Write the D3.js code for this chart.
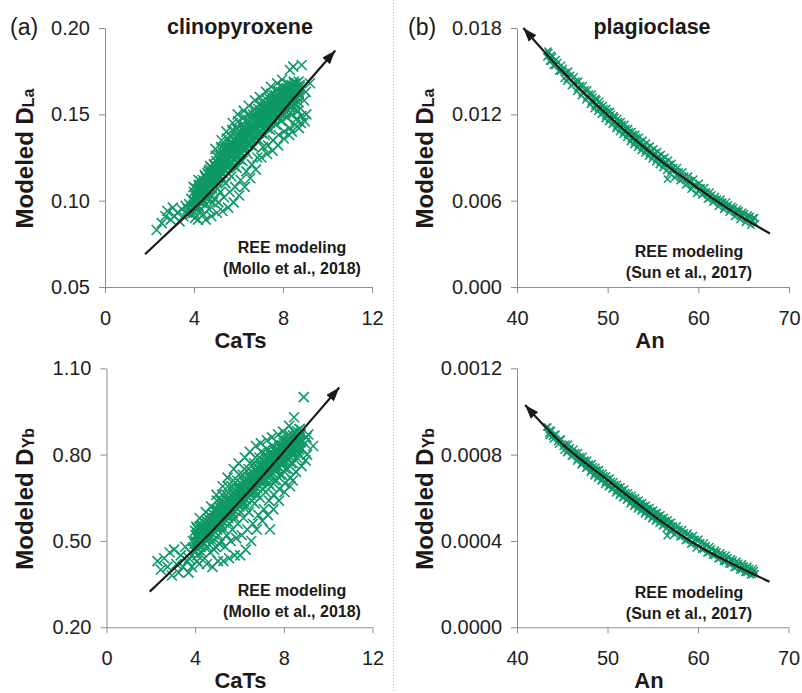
<!DOCTYPE html>
<html>
<head>
<meta charset="utf-8">
<script src="https://cdn.jsdelivr.net/npm/d3@7"></script>
<style>
  body { margin: 0; background: #fff; }
  svg { display: block; }
  text { font-family: "Liberation Sans", Arial, Helvetica, sans-serif; }
</style>
</head>
<body>
<svg id="chart" width="802" height="693"></svg>
<script>
// ---- Clinopyroxene: CaTs (mol%) vs modelled partition coefficients ----
// scattered analyses
const cpxLa = [
  [2.32,0.083],[2.55,0.087],[2.72,0.091],[2.80,0.094],[2.95,0.089],[3.05,0.096],[3.12,0.091],[3.25,0.093],[3.35,0.088],[3.45,0.095],[3.52,0.091],[3.62,0.097],[3.70,0.093],
  [3.78,0.098],[3.85,0.092],[3.88,0.101],[3.72,0.095],
  [3.95,0.094],[4.02,0.099],[4.08,0.104],[4.05,0.090],[3.98,0.108],[4.10,0.096],
  [4.18,0.089],[4.22,0.101],[4.28,0.106],[4.30,0.095],[4.20,0.112],[4.33,0.099],[4.26,0.109],
  [4.42,0.092],[4.45,0.104],[4.52,0.110],[4.55,0.098],[4.48,0.115],[4.58,0.107],[4.40,0.101],[4.53,0.089],
  [4.68,0.095],[4.70,0.108],[4.76,0.114],[4.80,0.103],[4.72,0.120],[4.83,0.111],[4.66,0.117],[4.78,0.091],[4.85,0.099],
  [4.92,0.101],[4.95,0.112],[5.02,0.118],[5.05,0.107],[4.98,0.126],[5.08,0.115],[4.90,0.121],[5.03,0.093],[5.10,0.099],[4.96,0.130],
  [5.18,0.105],[5.20,0.117],[5.26,0.122],[5.30,0.112],[5.22,0.131],[5.33,0.119],[5.15,0.126],[5.28,0.094],[5.35,0.102],[5.24,0.135],
  [5.42,0.110],[5.45,0.121],[5.52,0.127],[5.55,0.116],[5.48,0.136],[5.58,0.124],[5.40,0.131],[5.53,0.096],[5.60,0.105],[5.46,0.140],
  [5.68,0.114],[5.70,0.126],[5.76,0.132],[5.80,0.120],[5.72,0.141],[5.83,0.129],[5.66,0.137],[5.78,0.099],[5.85,0.108],[5.74,0.145],
  [5.92,0.119],[5.95,0.131],[6.02,0.137],[6.05,0.124],[5.98,0.146],[6.08,0.134],[5.90,0.142],[6.03,0.103],[6.10,0.112],[5.96,0.150],
  [6.18,0.123],[6.20,0.134],[6.26,0.140],[6.30,0.129],[6.22,0.148],[6.33,0.137],[6.15,0.144],[6.28,0.108],[6.35,0.117],[6.24,0.152],
  [6.42,0.127],[6.45,0.138],[6.52,0.143],[6.55,0.132],[6.48,0.150],[6.58,0.141],[6.40,0.147],[6.53,0.113],[6.60,0.121],[6.46,0.155],
  [6.68,0.131],[6.70,0.141],[6.76,0.147],[6.80,0.136],[6.72,0.153],[6.83,0.144],[6.66,0.150],[6.78,0.118],[6.85,0.125],[6.74,0.158],
  [6.92,0.135],[6.95,0.145],[7.02,0.150],[7.05,0.139],[6.98,0.156],[7.08,0.147],[6.90,0.153],[7.03,0.125],[7.10,0.131],[6.96,0.160],
  [7.18,0.138],[7.20,0.148],[7.26,0.153],[7.30,0.142],[7.22,0.159],[7.33,0.132],[7.15,0.156],[7.28,0.127],[7.35,0.146],[7.24,0.163],
  [7.42,0.141],[7.45,0.151],[7.52,0.156],[7.55,0.135],[7.48,0.162],[7.58,0.146],[7.40,0.159],[7.53,0.129],[7.60,0.150],[7.46,0.166],
  [7.68,0.144],[7.70,0.154],[7.76,0.159],[7.80,0.138],[7.72,0.164],[7.83,0.148],[7.66,0.161],[7.78,0.132],[7.85,0.152],[7.74,0.168],
  [7.92,0.146],[7.95,0.156],[8.02,0.161],[8.05,0.140],[7.98,0.166],[8.08,0.150],[7.90,0.163],[8.03,0.136],[8.10,0.154],[7.96,0.170],
  [8.18,0.148],[8.20,0.158],[8.26,0.163],[8.30,0.142],[8.22,0.168],[8.33,0.151],[8.15,0.165],[8.28,0.138],[8.35,0.155],[8.31,0.1757],
  [8.42,0.150],[8.45,0.160],[8.52,0.165],[8.55,0.144],[8.48,0.169],[8.58,0.147],[8.40,0.140],[8.53,0.156],[8.46,0.1776],
  [8.68,0.152],[8.70,0.162],[8.76,0.166],[8.80,0.145],[8.72,0.142],[8.83,0.149],[8.84,0.1786],
  [8.95,0.158],[9.02,0.163],[9.05,0.150],[8.98,0.146],[9.21,0.168]
];

const cpxYb = [
  [2.30,0.43],[2.45,0.40],[2.60,0.44],[2.75,0.41],[2.85,0.46],[2.95,0.38],[3.05,0.47],[3.15,0.42],[3.25,0.39],[3.35,0.45],[3.45,0.41],[3.55,0.48],[3.65,0.43],[3.70,0.39],
  [3.78,0.46],[3.85,0.41],[3.90,0.50],[3.72,0.44],
  [3.95,0.47],[4.02,0.52],[4.08,0.43],[4.05,0.55],[3.98,0.49],[4.10,0.45],
  [4.18,0.42],[4.22,0.50],[4.28,0.55],[4.30,0.46],[4.20,0.58],[4.33,0.52],[4.26,0.48],
  [4.42,0.44],[4.45,0.51],[4.52,0.56],[4.55,0.48],[4.48,0.60],[4.58,0.53],[4.40,0.49],[4.53,0.42],
  [4.68,0.46],[4.70,0.53],[4.76,0.58],[4.80,0.50],[4.72,0.62],[4.83,0.55],[4.66,0.57],[4.78,0.41],[4.85,0.47],
  [4.92,0.48],[4.95,0.55],[5.02,0.60],[5.05,0.52],[4.98,0.64],[5.08,0.57],[4.90,0.61],[5.03,0.43],[5.10,0.49],[4.96,0.66],
  [5.18,0.50],[5.20,0.57],[5.26,0.62],[5.30,0.54],[5.22,0.66],[5.33,0.59],[5.15,0.64],[5.28,0.43],[5.35,0.48],[5.24,0.69],
  [5.42,0.52],[5.45,0.59],[5.52,0.64],[5.55,0.56],[5.48,0.69],[5.58,0.61],[5.40,0.66],[5.53,0.44],[5.60,0.50],[5.46,0.72],
  [5.68,0.54],[5.70,0.61],[5.76,0.66],[5.80,0.58],[5.72,0.71],[5.83,0.63],[5.66,0.69],[5.78,0.45],[5.85,0.51],[5.74,0.75],
  [5.92,0.56],[5.95,0.63],[6.02,0.68],[6.05,0.60],[5.98,0.73],[6.08,0.65],[5.90,0.71],[6.03,0.45],[6.10,0.52],[5.96,0.77],
  [6.18,0.58],[6.20,0.65],[6.26,0.70],[6.30,0.62],[6.22,0.75],[6.33,0.67],[6.15,0.73],[6.28,0.47],[6.35,0.54],[6.24,0.79],
  [6.42,0.60],[6.45,0.67],[6.52,0.72],[6.55,0.64],[6.48,0.77],[6.58,0.69],[6.40,0.75],[6.53,0.50],[6.60,0.56],[6.46,0.81],
  [6.68,0.63],[6.70,0.69],[6.76,0.74],[6.80,0.66],[6.72,0.79],[6.83,0.71],[6.66,0.77],[6.78,0.54],[6.85,0.59],[6.74,0.83],
  [6.92,0.65],[6.95,0.71],[7.02,0.76],[7.05,0.68],[6.98,0.81],[7.08,0.73],[6.90,0.79],[7.03,0.57],[7.10,0.61],[6.96,0.84],
  [7.18,0.67],[7.20,0.73],[7.26,0.77],[7.30,0.70],[7.22,0.82],[7.33,0.64],[7.15,0.80],[7.28,0.59],[7.37,0.54],[7.24,0.85],
  [7.42,0.69],[7.45,0.74],[7.52,0.79],[7.55,0.66],[7.48,0.83],[7.58,0.71],[7.40,0.81],[7.53,0.61],[7.60,0.76],[7.46,0.86],
  [7.68,0.71],[7.70,0.76],[7.76,0.80],[7.80,0.68],[7.72,0.84],[7.83,0.73],[7.66,0.82],[7.78,0.64],[7.85,0.77],[7.74,0.87],
  [7.92,0.73],[7.95,0.78],[8.02,0.82],[8.05,0.70],[7.98,0.85],[8.08,0.75],[7.90,0.83],[8.03,0.67],[8.10,0.79],[7.96,0.88],
  [8.18,0.75],[8.20,0.80],[8.26,0.84],[8.30,0.72],[8.22,0.87],[8.33,0.77],[8.15,0.85],[8.28,0.69],[8.35,0.81],[8.24,0.90],
  [8.42,0.77],[8.45,0.82],[8.52,0.86],[8.55,0.74],[8.48,0.88],[8.58,0.79],[8.40,0.71],[8.53,0.84],[8.46,0.93],
  [8.68,0.80],[8.70,0.85],[8.76,0.87],[8.80,0.76],[8.72,0.89],[8.83,0.82],[8.90,1.00],
  [8.95,0.84],[9.02,0.86],[9.05,0.80],[8.98,0.78],[9.32,0.83],[9.10,0.87]
];

// densely populated core of the clinopyroxene clouds
const cpxCoreCaTs = [4.0,4.1,4.2,4.3,4.4,4.5,4.6,4.7,4.8,4.9,5.0,5.1,5.2,5.3,5.4,5.5,5.6,5.7,5.8,5.9,6.0,6.1,6.2,6.3,
  6.4,6.5,6.6,6.7,6.8,6.9,7.0,7.1,7.2,7.3,7.4,7.5,7.6,7.7,7.8,7.9,8.0,8.1,8.2,8.3,8.4,8.5,8.6,8.7];
const cpxCoreCaTsB = [4.05,4.15,4.25,4.35,4.45,4.55,4.65,4.75,4.85,4.95,5.05,5.15,5.25,5.35,5.45,5.55,5.65,5.75,5.85,5.95,6.05,6.15,6.25,6.35,
  6.45,6.55,6.65,6.75,6.85,6.95,7.05,7.15,7.25,7.35,7.45,7.55,7.65,7.75,7.85,7.95,8.05,8.15,8.25,8.35,8.45,8.55,8.65,8.75];
const cpxLaCoreLow  = [0.093,0.095,0.097,0.099,0.100,0.102,0.104,0.106,0.107,0.109,0.111,0.113,0.114,0.116,0.118,0.119,0.121,0.122,0.124,0.125,0.127,0.128,0.130,0.131,
  0.133,0.134,0.135,0.137,0.138,0.139,0.140,0.142,0.143,0.144,0.145,0.146,0.147,0.148,0.149,0.150,0.151,0.152,0.153,0.154,0.155,0.156,0.156,0.157];
const cpxLaCoreLowB = [0.097,0.100,0.102,0.103,0.105,0.107,0.109,0.110,0.112,0.114,0.116,0.117,0.119,0.121,0.122,0.124,0.125,0.127,0.128,0.130,0.131,0.133,0.134,0.136,
  0.137,0.138,0.140,0.141,0.142,0.144,0.145,0.146,0.147,0.148,0.149,0.150,0.151,0.152,0.153,0.154,0.155,0.156,0.157,0.158,0.159,0.160,0.160,0.161];
const cpxLaCoreMid  = [0.100,0.101,0.104,0.105,0.107,0.108,0.111,0.112,0.114,0.115,0.118,0.119,0.121,0.122,0.125,0.125,0.128,0.128,0.131,0.131,0.134,0.134,0.137,0.137,
  0.140,0.140,0.142,0.143,0.145,0.145,0.147,0.148,0.150,0.150,0.152,0.152,0.154,0.154,0.156,0.156,0.158,0.158,0.160,0.160,0.162,0.162,0.163,0.163];
const cpxLaCoreHighB = [0.103,0.106,0.108,0.109,0.111,0.113,0.115,0.116,0.118,0.120,0.122,0.123,0.125,0.127,0.128,0.130,0.131,0.133,0.134,0.136,0.137,0.139,0.140,0.142,
  0.143,0.144,0.146,0.147,0.148,0.150,0.151,0.152,0.153,0.154,0.155,0.156,0.157,0.158,0.159,0.160,0.161,0.162,0.163,0.164,0.165,0.166,0.166,0.167];
const cpxLaCoreHigh = [0.105,0.107,0.109,0.111,0.112,0.114,0.116,0.118,0.119,0.121,0.123,0.125,0.126,0.128,0.130,0.131,0.133,0.134,0.136,0.137,0.139,0.140,0.142,0.143,
  0.145,0.146,0.147,0.149,0.150,0.151,0.152,0.154,0.155,0.156,0.157,0.158,0.159,0.160,0.161,0.162,0.163,0.164,0.165,0.166,0.167,0.168,0.168,0.169];
const cpxYbCoreLow  = [0.465,0.472,0.479,0.486,0.493,0.500,0.508,0.516,0.524,0.532,0.540,0.548,0.556,0.564,0.572,0.580,0.588,0.596,0.604,0.612,0.620,0.628,0.636,0.644,
  0.652,0.660,0.668,0.676,0.684,0.692,0.700,0.707,0.714,0.721,0.728,0.735,0.742,0.749,0.756,0.763,0.770,0.777,0.784,0.791,0.798,0.805,0.812,0.818];
const cpxYbCoreLowB = [0.490,0.497,0.504,0.511,0.518,0.525,0.533,0.541,0.549,0.557,0.565,0.573,0.581,0.589,0.597,0.605,0.613,0.621,0.629,0.637,0.645,0.653,0.661,0.669,
  0.677,0.685,0.693,0.701,0.709,0.717,0.725,0.732,0.739,0.746,0.753,0.760,0.767,0.774,0.781,0.788,0.795,0.802,0.809,0.816,0.823,0.830,0.837,0.843];
const cpxYbCoreMid  = [0.500,0.509,0.514,0.523,0.528,0.537,0.543,0.553,0.559,0.569,0.575,0.585,0.591,0.601,0.607,0.617,0.623,0.633,0.639,0.649,0.655,0.665,0.671,0.681,
  0.687,0.697,0.703,0.713,0.719,0.729,0.735,0.744,0.749,0.758,0.763,0.772,0.777,0.786,0.791,0.800,0.805,0.814,0.819,0.828,0.833,0.842,0.847,0.855];
const cpxYbCoreHighB = [0.520,0.527,0.534,0.541,0.548,0.555,0.563,0.571,0.579,0.587,0.595,0.603,0.611,0.619,0.627,0.635,0.643,0.651,0.659,0.667,0.675,0.683,0.691,0.699,
  0.707,0.715,0.723,0.731,0.739,0.747,0.755,0.762,0.769,0.776,0.783,0.790,0.797,0.804,0.811,0.818,0.825,0.832,0.839,0.846,0.853,0.860,0.867,0.873];
const cpxYbCoreHigh = [0.535,0.542,0.549,0.556,0.563,0.570,0.578,0.586,0.594,0.602,0.610,0.618,0.626,0.634,0.642,0.650,0.658,0.666,0.674,0.682,0.690,0.698,0.706,0.714,
  0.722,0.730,0.738,0.746,0.754,0.762,0.770,0.777,0.784,0.791,0.798,0.805,0.812,0.819,0.826,0.833,0.840,0.847,0.854,0.861,0.868,0.875,0.882,0.888];

// ---- Plagioclase: An content vs modelled partition coefficients ----
const plagAn = [43.3,43.5,43.7,43.9,44.2,44.5,44.8,45.1,45.4,45.6,45.9,46.2,46.5,46.7,47.0,47.2,47.5,47.7,
  48.0,48.2,48.4,48.6,48.8,49.0,49.2,49.4,49.6,49.8,50.0,50.2,50.4,50.6,50.8,51.0,51.2,51.4,51.6,51.8,
  52.0,52.2,52.4,52.6,52.8,53.0,53.2,53.4,53.6,53.8,54.0,54.2,54.4,54.6,54.8,55.0,55.2,55.4,55.6,55.8,
  56.0,56.2,56.4,56.6,56.8,57.0,57.3,57.6,57.9,58.2,58.5,58.8,59.1,59.4,59.7,60.0,60.3,60.6,60.9,61.2,
  61.5,61.8,62.1,62.4,62.7,63.0,63.3,63.6,63.9,64.2,64.5,64.8,65.1,65.4,65.7,66.0,66.2];
const plagLa = [0.0160,0.0163,0.0157,0.0160,0.0154,0.0156,0.0150,0.0152,0.0149,0.0145,0.0147,0.0141,0.0143,0.0138,0.0140,0.0135,0.0137,0.0132,
  0.0134,0.0129,0.0132,0.0126,0.0130,0.0124,0.0127,0.0121,0.0124,0.0119,0.0122,0.0117,0.0120,0.0114,0.0118,0.0112,0.0115,0.0110,0.0113,0.0108,
  0.0110,0.0106,0.0108,0.0103,0.0106,0.0101,0.0104,0.0099,0.0101,0.0097,0.0099,0.0095,0.0097,0.0093,0.0095,0.0091,0.0093,0.0089,0.0091,0.0087,
  0.0089,0.0085,0.0087,0.0075,0.0085,0.0081,0.0083,0.0078,0.0080,0.0075,0.0077,0.0072,0.0074,0.0070,0.0071,0.0067,0.0069,0.0065,0.0066,0.0062,
  0.0064,0.0060,0.0061,0.0058,0.0059,0.0056,0.0057,0.0054,0.0055,0.0052,0.0053,0.0050,0.0051,0.0048,0.0049,0.0046,0.0048];
const plagYb = [0.000928,0.000897,0.000914,0.000884,0.000894,0.000860,0.000871,0.000838,0.000849,0.000818,0.000831,0.000797,0.000809,0.000779,0.000791,0.000761,0.000774,0.000743,
  0.000756,0.000727,0.000743,0.000712,0.000729,0.000699,0.000715,0.000685,0.000702,0.000672,0.000688,0.000659,0.000675,0.000646,0.000662,0.000633,0.000649,0.000620,0.000636,0.000607,
  0.000624,0.000595,0.000611,0.000583,0.000600,0.000570,0.000587,0.000558,0.000575,0.000546,0.000563,0.000534,0.000551,0.000522,0.000540,0.000511,0.000528,0.000500,0.000516,0.000488,
  0.000505,0.000476,0.000494,0.000425,0.000483,0.000455,0.000470,0.000438,0.000453,0.000423,0.000438,0.000407,0.000422,0.000391,0.000407,0.000377,0.000392,0.000362,0.000378,0.000348,
  0.000363,0.000333,0.000349,0.000320,0.000336,0.000306,0.000323,0.000293,0.000310,0.000280,0.000297,0.000267,0.000284,0.000255,0.000272,0.000245,0.000262];

// second set of plagioclase analyses
const plagAn2 = [43.4,43.6,43.8,44.0,44.3,44.6,44.9,45.2,45.5,45.7,46.0,46.3,46.6,46.8,47.1,47.3,47.6,47.8,
  48.1,48.3,48.5,48.7,48.9,49.1,49.3,49.5,49.7,49.9,50.1,50.3,50.5,50.7,50.9,51.1,51.3,51.5,51.7,51.9,
  52.1,52.3,52.5,52.7,52.9,53.1,53.3,53.5,53.7,53.9,54.1,54.3,54.5,54.7,54.9,55.1,55.3,55.5,55.7,55.9,
  56.1,56.3,56.5,56.7,56.9,57.1,57.4,57.7,58.0,58.3,58.6,58.9,59.2,59.5,59.8,60.1,60.4,60.7,61.0,61.3,
  61.6,61.9,62.2,62.5,62.8,63.1,63.4,63.7,64.0,64.3,64.6,64.9,65.2,65.5,65.8,66.1,66.3];
const plagLa2 = [0.0164,0.0157,0.0161,0.0154,0.0158,0.0150,0.0154,0.0145,0.0143,0.0150,0.0140,0.0146,0.0136,0.0143,0.0133,0.0140,0.0130,0.0137,
  0.0127,0.0134,0.0124,0.0131,0.0122,0.0129,0.0120,0.0126,0.0117,0.0124,0.0115,0.0122,0.0113,0.0119,0.0110,0.0117,0.0108,0.0115,0.0106,0.0113,
  0.0104,0.0110,0.0101,0.0108,0.0099,0.0106,0.0097,0.0104,0.0095,0.0102,0.0093,0.0100,0.0091,0.0098,0.0089,0.0096,0.0087,0.0094,0.0085,0.0092,
  0.0083,0.0090,0.0081,0.0088,0.0079,0.0086,0.0076,0.0083,0.0074,0.0080,0.0071,0.0077,0.0068,0.0075,0.0065,0.0072,0.0064,0.0069,0.0061,0.0066,
  0.0059,0.0063,0.0056,0.0061,0.0054,0.0059,0.0052,0.0056,0.0049,0.0054,0.0047,0.0052,0.0045,0.0050,0.0043,0.0048,0.0044];
const plagYb2 = [0.000928,0.000889,0.000911,0.000872,0.000894,0.000849,0.000872,0.000821,0.000809,0.000849,0.000792,0.000826,0.000770,0.000809,0.000753,0.000792,0.000736,0.000775,
  0.000719,0.000758,0.000702,0.000741,0.000691,0.000730,0.000679,0.000713,0.000662,0.000702,0.000651,0.000691,0.000640,0.000674,0.000623,0.000662,0.000611,0.000651,0.000600,0.000640,
  0.000589,0.000623,0.000572,0.000611,0.000560,0.000600,0.000549,0.000589,0.000538,0.000577,0.000526,0.000566,0.000515,0.000555,0.000504,0.000543,0.000492,0.000532,0.000481,0.000521,
  0.000470,0.000509,0.000458,0.000498,0.000447,0.000487,0.000430,0.000470,0.000419,0.000453,0.000402,0.000436,0.000385,0.000425,0.000368,0.000408,0.000362,0.000391,0.000345,0.000374,
  0.000334,0.000357,0.000317,0.000345,0.000306,0.000334,0.000294,0.000317,0.000277,0.000306,0.000266,0.000294,0.000255,0.000283,0.000243,0.000272,0.000249];

// ---- Model trend curves (arrow marks the direction of increase) ----
const trendCpxLa  = [[1.8,0.069],[3.0,0.0835],[4.4,0.1005],[6.5,0.129],[8.3,0.1564],[10.35,0.187]];
const trendCpxYb  = [[1.95,0.324],[4.2,0.49],[6.4,0.67],[8.5,0.855],[10.5,1.033]];
const trendPlagLa = [[40.7,0.0180],[45,0.0150],[50,0.01195],[55,0.0092],[60,0.00685],[64,0.00515],[67.9,0.00372]];
const trendPlagYb = [[40.9,0.00103],[45,0.00085],[50,0.000682],[55,0.00052],[60,0.000378],[64,0.00029],[67.9,0.000211]];

// ---- Axis ticks ----
const ticksCaTs   = [0, 4, 8, 12];
const ticksAn     = [40, 50, 60, 70];
const ticksCpxLa  = [0.05, 0.10, 0.15, 0.20];
const ticksCpxYb  = [0.20, 0.50, 0.80, 1.10];
const ticksPlagLa = [0.000, 0.006, 0.012, 0.018];
const ticksPlagYb = [0.0000, 0.0004, 0.0008, 0.0012];

const GREEN = "#0e9966";
const INK = "#1c1a19";
const AXIS = "#8c8c8c";

const zip = (xs, ys) => xs.map((v, i) => [v, ys[i]]);
const cpxLaCore = [].concat(
  zip(cpxCoreCaTs, cpxLaCoreLow), zip(cpxCoreCaTsB, cpxLaCoreLowB), zip(cpxCoreCaTs, cpxLaCoreMid),
  zip(cpxCoreCaTsB, cpxLaCoreHighB), zip(cpxCoreCaTs, cpxLaCoreHigh));
const cpxYbCore = [].concat(
  zip(cpxCoreCaTs, cpxYbCoreLow), zip(cpxCoreCaTsB, cpxYbCoreLowB), zip(cpxCoreCaTs, cpxYbCoreMid),
  zip(cpxCoreCaTsB, cpxYbCoreHighB), zip(cpxCoreCaTs, cpxYbCoreHigh));

const svg = d3.select("#chart");

// arrowhead for the trend curves
svg.append("defs").append("marker")
  .attr("id", "arrow")
  .attr("viewBox", "0 0 14 10")
  .attr("refX", 14).attr("refY", 5)
  .attr("markerUnits", "userSpaceOnUse")
  .attr("markerWidth", 14).attr("markerHeight", 10)
  .attr("orient", "auto-start-reverse")
  .append("path").attr("d", "M0,0 L14,5 L0,10 Z").attr("fill", INK);

// dotted divider between the two columns
svg.append("line")
  .attr("x1", 393.5).attr("x2", 393.5).attr("y1", 0).attr("y2", 693)
  .attr("stroke", "#a8a8a8").attr("stroke-width", 1).attr("stroke-dasharray", "1,2");

const panels = [
  { tag: "(a)", mineral: "clinopyroxene", ref: "(Mollo et al., 2018)", el: "La",
    pts: cpxLaCore.concat(cpxLa), trend: trendCpxLa, arrowAtStart: false, mark: 5, sw: 1.6,
    xDom: [0, 12], yDom: [0.05, 0.20], xR: [105, 372], yR: [287, 28],
    xTicks: ticksCaTs, yTicks: ticksCpxLa, yFmt: ".2f", xTitle: "CaTs", xTitleX: 240.5,
    tagX: 10, titleX: 240, yTitleX: 33, refX: 292, refY: 253 },
  { tag: "(b)", mineral: "plagioclase", ref: "(Sun et al., 2017)", el: "La",
    pts: zip(plagAn, plagLa).concat(zip(plagAn2, plagLa2)), trend: trendPlagLa, arrowAtStart: true, mark: 3.6, sw: 1.5,
    xDom: [40, 70], yDom: [0, 0.018], xR: [517, 789], yR: [287, 28],
    xTicks: ticksAn, yTicks: ticksPlagLa, yFmt: ".3f", xTitle: "An", xTitleX: 650,
    tagX: 408, titleX: 652, yTitleX: 433, refX: 689, refY: 257 },
  { tag: null, mineral: null, ref: "(Mollo et al., 2018)", el: "Yb",
    pts: cpxYbCore.concat(cpxYb), trend: trendCpxYb, arrowAtStart: false, mark: 5, sw: 1.6,
    xDom: [0, 12], yDom: [0.20, 1.10], xR: [106.5, 372.5], yR: [627.3, 368.3],
    xTicks: ticksCaTs, yTicks: ticksCpxYb, yFmt: ".2f", xTitle: "CaTs", xTitleX: 240.5,
    yTitleX: 33, refX: 292, refY: 596 },
  { tag: null, mineral: null, ref: "(Sun et al., 2017)", el: "Yb",
    pts: zip(plagAn, plagYb).concat(zip(plagAn2, plagYb2)), trend: trendPlagYb, arrowAtStart: true, mark: 3.6, sw: 1.5,
    xDom: [40, 70], yDom: [0, 0.0012], xR: [517, 788.5], yR: [627.3, 368.3],
    xTicks: ticksAn, yTicks: ticksPlagYb, yFmt: ".4f", xTitle: "An", xTitleX: 649,
    yTitleX: 433, refX: 689, refY: 598 }
];

panels.forEach(p => {
  const x = d3.scaleLinear().domain(p.xDom).range(p.xR);
  const y = d3.scaleLinear().domain(p.yDom).range(p.yR);
  const g = svg.append("g");

  // axes
  const gx = g.append("g").attr("transform", `translate(0,${p.yR[0]})`)
    .call(d3.axisBottom(x).tickValues(p.xTicks).tickFormat(d3.format("d"))
      .tickSize(6).tickSizeOuter(0).tickPadding(18));
  const gy = g.append("g").attr("transform", `translate(${p.xR[0]},0)`)
    .call(d3.axisLeft(y).tickValues(p.yTicks).tickFormat(d3.format(p.yFmt))
      .tickSize(6).tickSizeOuter(0).tickPadding(9));
  [gx, gy].forEach(a => {
    a.select(".domain").attr("stroke", AXIS).attr("stroke-width", 1);
    a.selectAll(".tick line").attr("stroke", AXIS).attr("stroke-width", 1);
    a.selectAll(".tick text").attr("fill", "#1e1e1e")
      .style("font-size", "20px").style("font-family", '"Liberation Sans", Arial, sans-serif');
  });

  // scatter (× markers)
  const s = p.mark;
  g.append("g").selectAll("path").data(p.pts).join("path")
    .attr("transform", d => `translate(${x(d[0])},${y(d[1])})`)
    .attr("d", `M${-s},${-s}L${s},${s}M${-s},${s}L${s},${-s}`)
    .attr("fill", "none").attr("stroke", GREEN).attr("stroke-width", p.sw);

  // trend curve with arrow
  const line = d3.line().x(d => x(d[0])).y(d => y(d[1])).curve(d3.curveCatmullRom.alpha(0.5));
  const path = g.append("path").datum(p.trend).attr("d", line)
    .attr("fill", "none").attr("stroke", INK).attr("stroke-width", 2.2);
  if (p.arrowAtStart) path.attr("marker-start", "url(#arrow)");
  else path.attr("marker-end", "url(#arrow)");

  // titles
  const cy = (p.yR[0] + p.yR[1]) / 2;
  g.append("text").attr("x", p.xTitleX).attr("y", p.yR[0] + 61)
    .attr("text-anchor", "middle").attr("font-weight", "bold").attr("font-size", 22)
    .attr("fill", INK).text(p.xTitle);

  const yt = g.append("text")
    .attr("transform", `translate(${p.yTitleX},${cy + 1}) rotate(-90)`)
    .attr("text-anchor", "middle").attr("font-weight", "bold").attr("font-size", 24)
    .attr("fill", INK);
  yt.append("tspan").text("Modeled D");
  yt.append("tspan").attr("font-size", 16).attr("dy", 1).text(p.el);

  g.append("text").attr("x", p.refX).attr("y", p.refY)
    .attr("text-anchor", "middle").attr("font-weight", "bold").attr("font-size", 16)
    .attr("fill", INK).text("REE modeling");
  g.append("text").attr("x", p.refX).attr("y", p.refY + 20.5)
    .attr("text-anchor", "middle").attr("font-weight", "bold").attr("font-size", 16)
    .attr("fill", INK).text(p.ref);

  if (p.tag) {
    g.append("text").attr("x", p.tagX).attr("y", 35)
      .attr("font-size", 23).attr("fill", INK).text(p.tag);
    g.append("text").attr("x", p.titleX).attr("y", 34)
      .attr("text-anchor", "middle").attr("font-weight", "bold").attr("font-size", 21.5)
      .attr("fill", INK).text(p.mineral);
  }
});
</script>
</body>
</html>
